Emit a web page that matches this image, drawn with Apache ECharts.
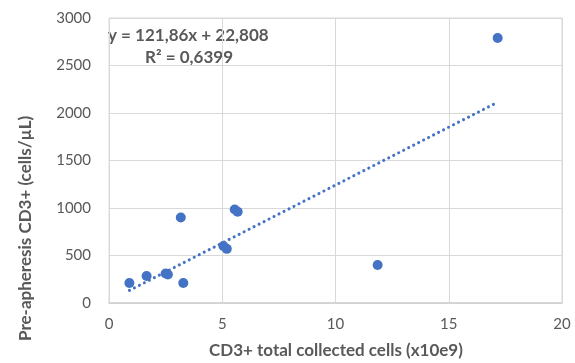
<!DOCTYPE html>
<html>
<head>
<meta charset="utf-8">
<script src="https://cdn.jsdelivr.net/npm/echarts@6/dist/echarts.min.js"></script>
<style>
  html, body { margin: 0; padding: 0; background: #fff; }
  #chart { width: 575px; height: 363px; }
</style>
</head>
<body>
<div id="chart"></div>
<script>
// CD3+ total collected cells (x10e9) vs. pre-apheresis CD3+ count (cells/µL)
const collectedCells = [0.9, 1.66, 2.5, 2.6, 3.17, 3.28, 5.05, 5.2, 5.55, 5.68, 11.86, 17.16];
const preApheresisCD3 = [210, 285, 310, 300, 900, 210, 600, 570, 985, 960, 400, 2790];

// Linear trendline parameters as printed on the chart
const slope = 121.86;
const intercept = 22.808;
const rSquared = 0.6399;

const xTicks = [0, 5, 10, 15, 20];
const yTicks = [0, 500, 1000, 1500, 2000, 2500, 3000];

const FONT = 'Lato, "Open Sans", sans-serif';
const BLUE = '#4472C4';
const GREY_TEXT = '#595959';

const points = collectedCells.map((x, i) => [x, preApheresisCD3[i]]);
const xMinData = Math.min(...collectedCells);
const xMaxData = Math.max(...collectedCells);
const trend = [xMinData, xMaxData].map(x => [x, slope * x + intercept]);

const fmt = (v, d) => v.toFixed(d).replace('.', ',');
const equationText = 'y = ' + fmt(slope, 2) + 'x + ' + fmt(intercept, 3);
const r2Text = 'R² = ' + fmt(rSquared, 4);

const chart = echarts.init(document.getElementById('chart'), null, { renderer: 'canvas' });
chart.setOption({
  animation: false,
  backgroundColor: '#fff',
  grid: { left: 109, right: 13, top: 18, bottom: 60, show: true, borderColor: '#d9d9d9', borderWidth: 1 },
  xAxis: {
    type: 'value',
    min: xTicks[0],
    max: xTicks[xTicks.length - 1],
    interval: xTicks[1] - xTicks[0],
    axisLine: { show: true, lineStyle: { color: '#d0d0d0', width: 1.5 } },
    axisTick: { show: false },
    splitLine: { show: true, lineStyle: { color: '#d9d9d9', width: 1 } },
    axisLabel: { color: GREY_TEXT, fontFamily: FONT, fontSize: 15, margin: 14, formatter: v => String(v) }
  },
  yAxis: {
    type: 'value',
    min: yTicks[0],
    max: yTicks[yTicks.length - 1],
    interval: yTicks[1] - yTicks[0],
    axisLine: { show: false },
    axisTick: { show: false },
    splitLine: { show: true, lineStyle: { color: '#d9d9d9', width: 1 } },
    axisLabel: { color: GREY_TEXT, fontFamily: FONT, fontSize: 15, margin: 18, formatter: v => String(v) }
  },
  graphic: [
    {
      type: 'text',
      left: 209, top: 342,
      style: { text: 'CD3+ total collected cells (x10e9)', fill: GREY_TEXT, font: 'bold 17px ' + FONT }
    },
    {
      type: 'text',
      x: 17, y: 341,
      rotation: Math.PI / 2,
      style: { text: 'Pre-apheresis CD3+ (cells/µL)', fill: GREY_TEXT, font: 'bold 17px ' + FONT }
    },
    {
      type: 'text',
      left: 108, top: 27,
      style: { text: equationText, fill: GREY_TEXT, font: 'bold 17px ' + FONT }
    },
    {
      type: 'text',
      left: 145, top: 49,
      style: { text: r2Text, fill: GREY_TEXT, font: 'bold 17px ' + FONT }
    }
  ],
  series: [
    {
      name: 'Linear trend',
      type: 'line',
      data: trend,
      symbol: 'none',
      lineStyle: { color: BLUE, width: 3, type: [0.1, 5.5], cap: 'round' },
      z: 2
    },
    {
      name: 'Samples',
      type: 'scatter',
      data: points,
      symbol: 'circle',
      symbolSize: 10,
      itemStyle: { color: BLUE, opacity: 1 },
      z: 3
    }
  ]
});
</script>
</body>
</html>
